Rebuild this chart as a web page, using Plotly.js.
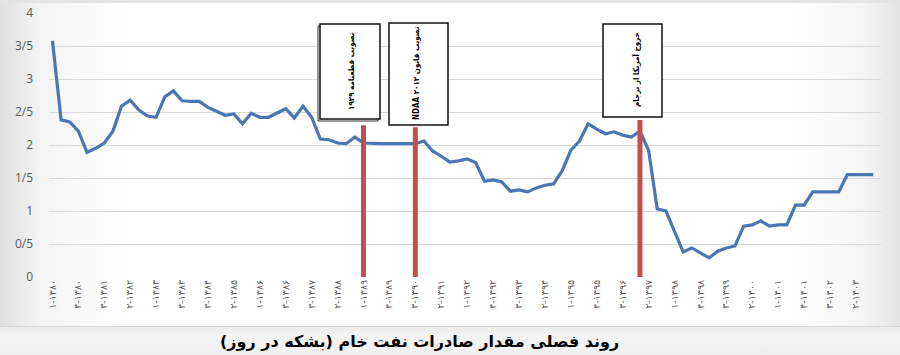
<!DOCTYPE html>
<html>
<head>
<meta charset="utf-8">
<script src="https://cdn.plot.ly/plotly-3.0.1.min.js"></script>
<style>
  html, body { margin: 0; padding: 0; }
  #wrap { position: relative; width: 900px; height: 355px; overflow: hidden;
    background: linear-gradient(to right, #e0e0e0 0px, #f4f4f4 40px, #ffffff 130px, #ffffff 790px, #f4f4f4 865px, #e3e3e3 900px); }
  #topline { position: absolute; left: 0; top: 0; width: 900px; height: 3px; background: #e4e4e4; }
  #band { position: absolute; left: 0; top: 326px; width: 900px; height: 29px;
    border-top: 1px solid #d6d6d6;
    background: linear-gradient(to bottom, #ececec, #f4f4f4 30%, #efefef); }
  #chart { position: absolute; left: 0; top: 0; width: 900px; height: 355px; }
</style>
</head>
<body>
<div id="wrap">
  <div id="topline"></div>
  <div id="band"></div>
  <div id="chart"></div>
</div>
<script>
// ---- data ----
const years = ['۱۳۸۰','۱۳۸۱','۱۳۸۲','۱۳۸۳','۱۳۸۴','۱۳۸۵','۱۳۸۶','۱۳۸۷','۱۳۸۸','۱۳۸۹','۱۳۹۰','۱۳۹۱',
               '۱۳۹۲','۱۳۹۳','۱۳۹۴','۱۳۹۵','۱۳۹۶','۱۳۹۷','۱۳۹۸','۱۳۹۹','۱۴۰۰','۱۴۰۱','۱۴۰۲','۱۴۰۳'];
const quarters = ['۱','۲','۳','۴'];

// quarterly crude oil exports (million barrels per day), 1380 Q1 .. 1403 Q4
const exportsMbpd = [
  3.58, 2.38, 2.35, 2.21, 1.89, 1.95, 2.03, 2.21,
  2.59, 2.68, 2.53, 2.44, 2.42, 2.73, 2.82, 2.67,
  2.66, 2.66, 2.57, 2.51, 2.45, 2.47, 2.32, 2.48,
  2.42, 2.42, 2.48, 2.55, 2.41, 2.59, 2.42, 2.09,
  2.08, 2.03, 2.02, 2.12, 2.03, 2.02, 2.02, 2.02,
  2.02, 2.02, 2.02, 2.06, 1.91, 1.83, 1.74, 1.76,
  1.79, 1.73, 1.45, 1.47, 1.44, 1.30, 1.32, 1.29,
  1.35, 1.39, 1.41, 1.61, 1.92, 2.06, 2.32, 2.24,
  2.17, 2.20, 2.15, 2.12, 2.21, 1.92, 1.03, 1.00,
  0.68, 0.38, 0.44, 0.36, 0.29, 0.39, 0.44, 0.47,
  0.77, 0.79, 0.85, 0.77, 0.79, 0.79, 1.09, 1.09,
  1.29, 1.29, 1.29, 1.29, 1.55, 1.55, 1.55, 1.55
];

const yTickVals = [0, 0.5, 1, 1.5, 2, 2.5, 3, 3.5, 4];
const yTickText = ['0', '0/5', '1', '1/5', '2', '2/5', '3', '3/5', '4'];

const eventCats = ['۱-۱۳۸۹', '۳-۱۳۹۰', '۱-۱۳۹۷'];
const eventTexts = ['تصویب قطعنامه ۱۹۲۹', 'NDAA ۲۰۱۲ تصویب قانون', 'خروج آمریکا از برجام'];

const chartTitle = 'روند فصلی مقدار صادرات نفت خام (بشکه در روز)\u200F';

// ---- build ----
const cats = [];
years.forEach(y => quarters.forEach(q => cats.push(q + '-' + y)));
const tickCats = cats.filter((c, i) => i % 3 === 0);

const L = 49, R = 881, T = 13, B = 277;
const W = 900, H = 355;
const px = x => (x - L) / (R - L);
const py = y => (B - y) / (B - T);

const shapes = [];
const annotations = [];

// red event bars
const barTops = [2.30, 2.27, 2.38];
eventCats.forEach((c, k) => {
  const idx = cats.indexOf(c);
  shapes.push({ type: 'line', xref: 'x', yref: 'y', x0: idx, x1: idx, y0: 0, y1: barTops[k],
    line: { color: '#c0504d', width: 5 }, layer: 'above' });
});

// boxes  [x0, x1, y0, y1] in px
const boxes = [[320, 380, 24, 119], [389, 448, 23, 125], [603, 662, 24, 117]];
const textCenters = [[351, 71], [416, 73], [636, 70]];
boxes.forEach((b, k) => {
  if (k === 0) {
    shapes.push({ type: 'rect', xref: 'paper', yref: 'paper', x0: px(b[0] - 2), x1: px(b[1] - 2), y0: py(b[3] + 2), y1: py(b[2] + 2),
      line: { color: '#333', width: 1 }, fillcolor: '#ffffff', layer: 'above' });
  }
  shapes.push({ type: 'rect', xref: 'paper', yref: 'paper', x0: px(b[0]), x1: px(b[1]), y0: py(b[3]), y1: py(b[2]),
    line: { color: '#111', width: 1.5 }, fillcolor: '#ffffff', layer: 'above' });
  annotations.push({ xref: 'paper', yref: 'paper', x: px(textCenters[k][0]), y: py(textCenters[k][1]),
    text: '<b>' + eventTexts[k] + '</b>', showarrow: false, textangle: -90,
    xanchor: 'center', yanchor: 'middle',
    font: { family: 'DejaVu Sans Condensed, DejaVu Sans', size: 8, color: '#000' } });
});

annotations.push({ xref: 'paper', yref: 'paper', x: px(419), y: py(341), text: '<b>' + chartTitle + '</b>',
  showarrow: false, xanchor: 'center', yanchor: 'middle',
  font: { family: 'DejaVu Sans', size: 16, color: '#000' } });

const trace = {
  type: 'scatter', mode: 'lines', x: cats, y: exportsMbpd,
  line: { color: '#4a76b2', width: 3.2 }, hoverinfo: 'skip'
};

const layout = {
  width: W, height: H,
  margin: { l: L, r: W - R, t: T, b: H - B, pad: 0 },
  paper_bgcolor: 'rgba(0,0,0,0)', plot_bgcolor: 'rgba(0,0,0,0)',
  showlegend: false,
  xaxis: {
    type: 'category', range: [-0.4, 95.9],
    tickmode: 'array', tickvals: tickCats, ticktext: tickCats,
    tickangle: -90, ticks: '', showgrid: false, showline: false, zeroline: false,
    tickfont: { family: 'DejaVu Sans', size: 9.5, color: '#595959' }
  },
  yaxis: {
    range: [0, 4], tickmode: 'array', tickvals: yTickVals, ticktext: yTickText,
    showgrid: true, gridcolor: '#d9d9d9', gridwidth: 1, zeroline: false, showline: false,
    ticks: '', ticklabelstandoff: 15,
    tickfont: { family: 'Open Sans, DejaVu Sans', size: 12, color: '#595959' }
  },
  shapes: shapes,
  annotations: annotations
};

Plotly.newPlot('chart', [trace], layout, { staticPlot: true, displayModeBar: false });
</script>
</body>
</html>
